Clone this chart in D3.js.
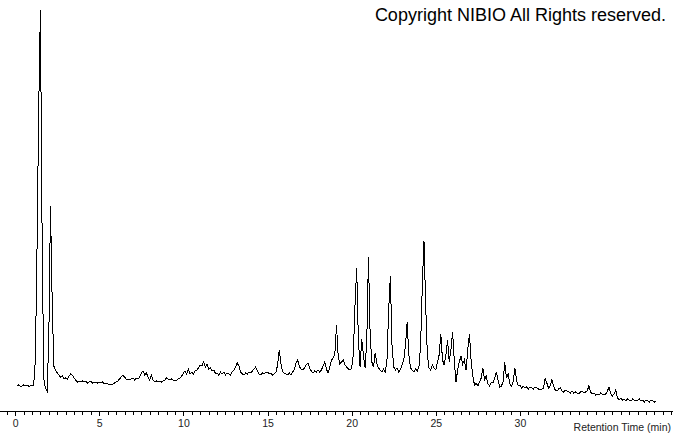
<!DOCTYPE html>
<html>
<head>
<meta charset="utf-8">
<script src="https://cdn.jsdelivr.net/npm/d3@7"></script>
<style>
  html, body { margin: 0; padding: 0; background: #fff; }
  svg { display: block; }
</style>
</head>
<body>
<svg id="chart" width="673" height="433"></svg>
<script>
// Retention time grid (minutes) and detector signal
const startTime = 0.1;
const timeStep = 0.1;
const signal = [
  14,15,14,14,15,14,15,14,14,15,14,
  40,150,290,390,170,22,12,9,
  60,194,100,34,30,27,25,23,24,21,
  22,21,24,26,25,22,20,18,19,18,
  19,18,19,17,18,19,17,18,18,17,
  18,17,18,16,17,16,16,15,16,17,
  18,19,21,23,25,23,21,20,21,21,
  22,20,22,21,23,27,29,25,27,23,
  20,25,20,18,19,18,19,18,19,20,
  22,21,20,21,20,19,20,21,22,24,
  27,29,26,31,26,28,26,29,30,32,
  35,34,38,33,36,31,32,29,30,27,
  27,25,28,26,28,25,27,26,25,28,
  30,33,37,34,28,26,25,27,26,28,
  27,29,31,33,29,26,25,27,26,28,
  28,26,27,25,26,28,35,50,36,28,
  27,26,25,27,25,28,31,37,40,33,
  31,30,32,35,37,32,29,27,29,28,
  30,28,30,34,38,31,27,33,40,42,
  46,75,44,36,38,40,35,33,31,30,
  32,45,95,132,60,33,61,45,32,60,
  143,65,38,33,47,36,32,30,28,31,
  28,40,90,124,55,33,30,32,28,31,
  35,40,55,78,45,32,30,28,31,29,
  33,55,115,159,95,45,32,30,35,32,
  30,38,45,66,40,35,45,60,38,50,
  68,40,18,30,38,44,36,40,30,50,
  66,40,24,15,17,14,18,22,32,20,
  24,16,14,18,17,22,28,20,13,14,
  18,38,22,26,16,14,18,32,20,14,
  15,12,14,12,13,11,13,12,11,13,
  12,11,10,11,12,22,17,12,14,20,
  14,10,9,11,12,9,8,10,9,8,
  7,9,7,8,7,6,8,9,7,8,
  9,14,8,6,7,5,6,5,7,6,
  5,6,9,13,6,4,6,10,2,0,
  2,0,1,-1,1,0,-1,1,0,-1,
  0,1,-1,0,-2,0,-1,-2,0,-1,
  -2,-1
];
const majorTicks = [0, 5, 10, 15, 20, 25, 30];
const minorTickStep = 0.5;
const axisTitle = "Retention Time (min)";
const copyrightText = "Copyright NIBIO All Rights reserved.";

const points = signal.map((v, i) => ({ t: startTime + i * timeStep, v }));

const svg = d3.select("#chart");
const W = 673, H = 433;

const x = d3.scaleLinear().domain([-0.9, 39.1]).range([0, W]);
const y = d3.scaleLinear().domain([0, 390]).range([400, 10]);

// trace
const line = d3.line().x(d => x(d.t)).y(d => y(d.v));
svg.append("path")
  .datum(points)
  .attr("d", line)
  .attr("fill", "none")
  .attr("stroke", "#000")
  .attr("stroke-width", 1)
  .attr("stroke-linejoin", "miter")
  .attr("shape-rendering", "crispEdges");

// x axis
const axisY = 411;
const minorVals = d3.range(-0.5, 39.01, minorTickStep);
const gAxis = svg.append("g").attr("transform", `translate(0,${axisY})`);
gAxis.append("line")
  .attr("x1", 0).attr("x2", W).attr("y1", 0.5).attr("y2", 0.5)
  .attr("stroke", "#000").attr("stroke-width", 1);

const minorAxis = d3.axisBottom(x).tickValues(minorVals).tickSize(3).tickFormat("");
const gMinor = gAxis.append("g").attr("transform", "translate(0,0.5)").call(minorAxis);
gMinor.select(".domain").remove();
gMinor.selectAll(".tick line").attr("stroke", "#000").attr("shape-rendering", "crispEdges");

const majorAxis = d3.axisBottom(x).tickValues(majorTicks).tickSize(4).tickPadding(4).tickFormat(d3.format("d"));
const gMajor = gAxis.append("g").attr("transform", "translate(0,0.5)").call(majorAxis);
gMajor.select(".domain").remove();
gMajor.selectAll(".tick line").attr("stroke", "#000").attr("shape-rendering", "crispEdges");
gMajor.selectAll(".tick text")
  .attr("fill", "#222")
  .style("font-family", "'Liberation Sans', Arial, sans-serif")
  .style("font-size", "10.5px");

svg.append("text")
  .attr("x", 671).attr("y", 431)
  .attr("text-anchor", "end")
  .attr("fill", "#222")
  .style("font-family", "'Liberation Sans', Arial, sans-serif")
  .style("font-size", "10.5px")
  .text(axisTitle);

svg.append("text")
  .attr("x", 666).attr("y", 21)
  .attr("text-anchor", "end")
  .attr("fill", "#000")
  .style("font-family", "'Liberation Sans', Arial, sans-serif")
  .style("font-size", "18px")
  .text(copyrightText);
</script>
</body>
</html>
